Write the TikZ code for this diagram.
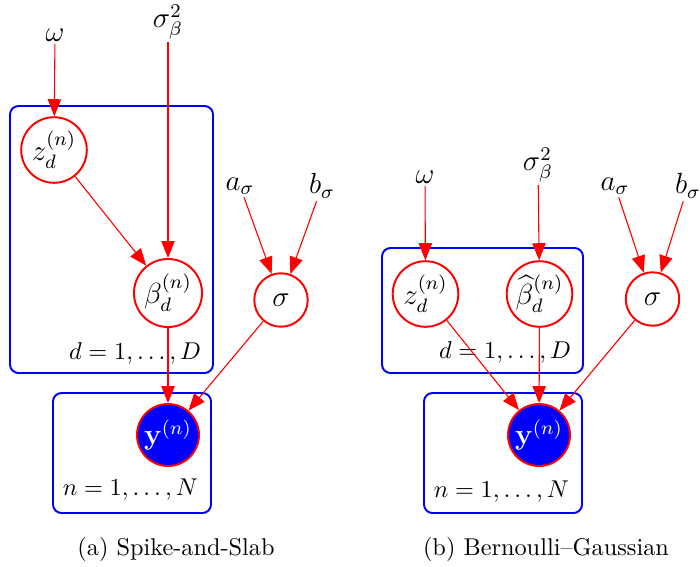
\documentclass[tikz,border=0pt]{standalone}
\usepackage{amsmath,amssymb}
\usetikzlibrary{arrows.meta}
\begin{document}
\begin{tikzpicture}[x=0.4115pt,y=-0.4115pt,
  var/.style={circle,draw=red,line width=0.8pt,inner sep=0pt,font=\large},
  obs/.style={var,fill=blue,text=white},
  plate/.style={draw=blue,line width=0.8pt,rounded corners=3.5pt,inner sep=0pt},
  lbl/.style={inner sep=1pt,font=\large},
  platelbl/.style={inner sep=1pt},
  edge/.style={draw=red,line width=0.45pt,-{Triangle[length=7pt,width=5.5pt]}},
  captext/.style={inner sep=0pt}
]
\useasboundingbox (0,0) rectangle (700,566);
% ---------- (a) ----------
\node[plate,minimum width={203*0.4115pt},minimum height={267*0.4115pt}] (plateDa) at (111.5,239.5) {};
\node[plate,minimum width={158*0.4115pt},minimum height={120*0.4115pt}] (plateNa) at (132,453) {};
\node[lbl] (omegaA) at (55,35) {$\omega$};
\node[lbl] (sbA) at (168,22) {$\sigma_\beta^2$};
\node[lbl] (aA) at (240,186) {$a_\sigma$};
\node[lbl] (bA) at (322,186) {$b_\sigma$};
\node[var,minimum size=27pt] (zA) at (54,150) {$z_d^{(n)}$};
\node[var,minimum size=28pt] (betaA) at (168,293) {$\beta_d^{(n)}$};
\node[var,minimum size=22pt] (sigA) at (281,300) {$\sigma$};
\node[obs,minimum size=25.5pt] (yA) at (168,435) {$\mathbf{y}^{(n)}$};
\node[platelbl,anchor=east] (dA) at (204,353) {$d=1,\ldots,D$};
\node[platelbl,anchor=east] (nA) at (201,490) {$n=1,\ldots,N$};
\draw[edge] (omegaA) -- (zA);
\draw[edge] (sbA) -- (betaA);
\draw[edge] (zA) -- (betaA);
\draw[edge] (aA) -- (sigA);
\draw[edge] (bA) -- (sigA);
\draw[edge] (betaA) -- (yA);
\draw[edge] (sigA) -- (yA);
\node[captext] (capA) at (176,549) {(a) Spike-and-Slab};
% ---------- (b) ----------
\node[plate,minimum width={201*0.4115pt},minimum height={125*0.4115pt}] (plateDb) at (482.5,310.5) {};
\node[plate,minimum width={158*0.4115pt},minimum height={120*0.4115pt}] (plateNb) at (503,453) {};
\node[lbl] (omegaB) at (425,177) {$\omega$};
\node[lbl] (sbB) at (538,165) {$\sigma_\beta^2$};
\node[lbl] (aB) at (615,186) {$a_\sigma$};
\node[lbl] (bB) at (688,186) {$b_\sigma$};
\node[var,minimum size=27pt] (zB) at (425.5,294) {$z_d^{(n)}$};
\node[var,minimum size=27pt] (betaB) at (539.5,294) {$\widehat{\beta}_d^{(n)}$};
\node[var,minimum size=22pt] (sigB) at (652.5,299) {$\sigma$};
\node[obs,minimum size=25.5pt] (yB) at (539,435) {$\mathbf{y}^{(n)}$};
\node[platelbl,anchor=east] (dB) at (574,352) {$d=1,\ldots,D$};
\node[platelbl,anchor=east] (nB) at (572,492) {$n=1,\ldots,N$};
\draw[edge] (omegaB) -- (zB);
\draw[edge] (sbB) -- (betaB);
\draw[edge] (aB) -- (sigB);
\draw[edge] (bB) -- (sigB);
\draw[edge] (zB) -- (yB);
\draw[edge] (betaB) -- (yB);
\draw[edge] (sigB) -- (yB);
\node[captext] (capB) at (546,549) {(b) Bernoulli--Gaussian};
\end{tikzpicture}
\end{document}
